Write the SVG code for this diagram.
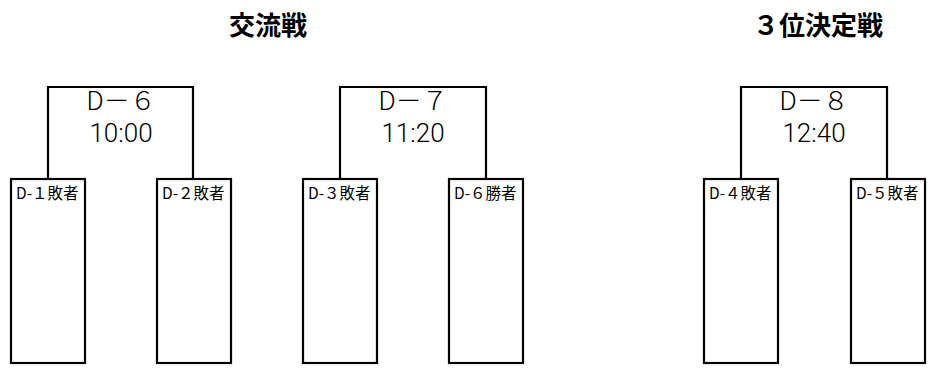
<svg xmlns="http://www.w3.org/2000/svg" width="931" height="372" viewBox="0 0 931 372">
<style>
.ln{fill:none;stroke:#000;stroke-width:2.2}
.box{fill:#fff;stroke:#000;stroke-width:2.2}
.t{font-family:"Noto Sans CJK JP","Noto Sans",sans-serif;fill:#000}
.title{font-size:26px;font-weight:bold;text-anchor:middle}
.mt{font-size:26px;font-weight:300;text-anchor:middle}
.tm{font-family:Roboto,"Liberation Sans",sans-serif;font-weight:300;font-size:26px;text-anchor:middle;fill:#000}
.lb{font-size:15.5px}
</style>
<rect width="931" height="372" fill="#fff"/>
<text class="t title" x="268" y="35">交流戦</text>
<text class="t title" x="818" y="35">３位決定戦</text>
<g id="connectors">
<path class="ln" d="M48,179 V87 H193 V179"/>
<path class="ln" d="M340,179 V87 H486 V179"/>
<path class="ln" d="M741,179 V87 H887 V179"/>
</g>
<g id="m6"><text class="t mt" x="121" y="110">D－６</text><text class="tm" x="121" y="142">10:00</text></g>
<g id="m7"><text class="t mt" x="413" y="110">D－７</text><text class="tm" x="413" y="142">11:20</text></g>
<g id="m8"><text class="t mt" x="814" y="110">D－８</text><text class="tm" x="814" y="142">12:40</text></g>
<g id="b1"><rect class="box" x="11" y="179" width="74" height="184"/><text class="t lb" x="16" y="199">D-１敗者</text></g>
<g id="b2"><rect class="box" x="157" y="179" width="74" height="184"/><text class="t lb" x="162" y="199">D-２敗者</text></g>
<g id="b3"><rect class="box" x="303" y="179" width="74" height="184"/><text class="t lb" x="308" y="199">D-３敗者</text></g>
<g id="b4"><rect class="box" x="449" y="179" width="74" height="184"/><text class="t lb" x="454" y="199">D-６勝者</text></g>
<g id="b5"><rect class="box" x="704" y="179" width="74" height="184"/><text class="t lb" x="709" y="199">D-４敗者</text></g>
<g id="b6"><rect class="box" x="851" y="179" width="74" height="184"/><text class="t lb" x="856" y="199">D-５敗者</text></g>
</svg>
